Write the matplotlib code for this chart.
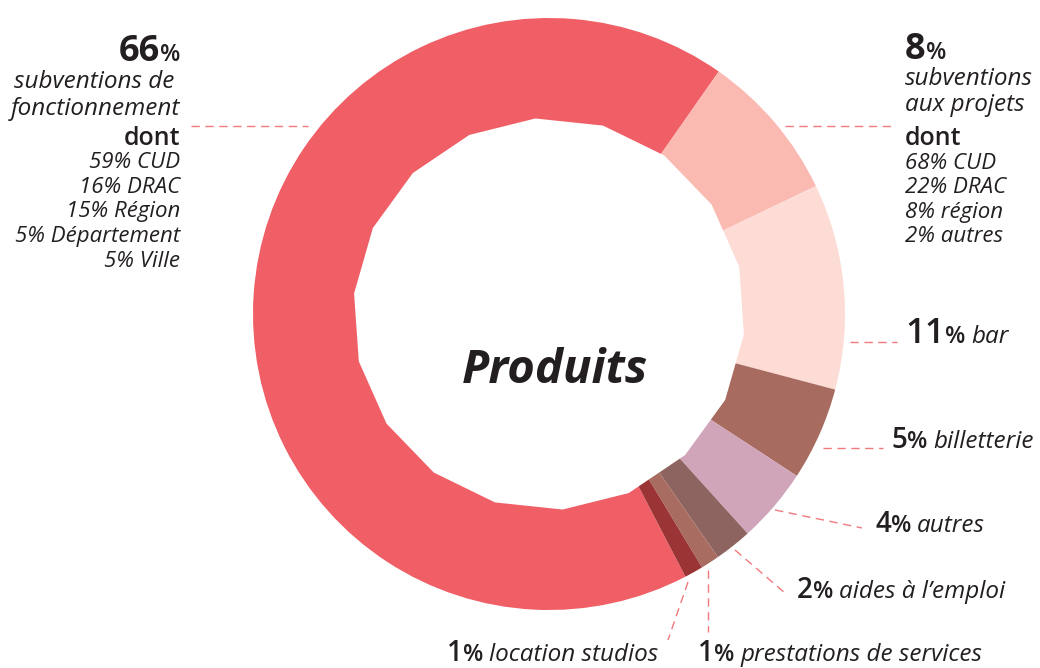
import numpy as np
import matplotlib
matplotlib.use("Agg")
import matplotlib.pyplot as plt
from matplotlib.patches import RegularPolygon

# ---------------- data ----------------
categories = ["subventions de fonctionnement", "subventions aux projets", "bar",
              "billetterie", "autres", "aides à l’emploi",
              "prestations de services", "location studios"]
values = [66, 8, 11, 5, 4, 2, 1, 1]
colors = ["#F05E66", "#FABAB2", "#FDDCD6", "#A86B60", "#D0A5BA",
          "#8E6461", "#A86C60", "#9B3535"]
detail_fonct = ["59% CUD", "16% DRAC", "15% Région", "5% Département", "5% Ville"]
detail_projets = ["68% CUD", "22% DRAC", "8% région", "2% autres"]
title = "Produits"

FONT = ["Open Sans", "DejaVu Sans"]
TXT = "#231F20"
LINE = "#F07A7E"
W, H = 1040, 668

fig = plt.figure(figsize=(W / 100, H / 100), dpi=100)
ax = fig.add_axes([0, 0, 1, 1])

CX, CY, R = 549, 314, 296
start = 55 + 360 * values[0] / sum(values)
ax.pie(values, colors=colors, center=(CX, H - CY), radius=R, startangle=start,
       counterclock=False, wedgeprops=dict(linewidth=0))
ax.add_patch(RegularPolygon((CX, H - CY), numVertices=18, radius=196,
                            orientation=np.radians(4), facecolor="white",
                            edgecolor="none", zorder=3))
ax.set_xlim(0, W)
ax.set_ylim(0, H)
ax.set_aspect("equal")
ax.axis("off")

# leader lines
leaders = [((191, 126), (308, 126)), ((785, 126), (895, 126)),
           ((850, 342), (897, 342)), ((823, 448), (883, 448)),
           ((775, 510), (862, 528)), ((735, 550), (785, 593)),
           ((708, 570), (708, 632)), ((688, 582), (668, 640))]
for (x0, y0), (x1, y1) in leaders:
    ax.plot([x0, x1], [H - y0, H - y1], color=LINE, lw=1.0,
            dashes=(6, 4), zorder=4)

renderer = fig.canvas.get_renderer()


def rich(x, y, pieces, ha="left"):
    """pieces: (string, size, weight, style, gap_after_px)"""
    texts, widths = [], []
    for s, size, weight, style, gap in pieces:
        t = ax.text(0, 0, s, fontsize=size, fontweight=weight, fontstyle=style,
                    color=TXT, va="baseline", ha="left", family=FONT, zorder=5)
        texts.append(t)
        widths.append(t.get_window_extent(renderer).width + gap)
    total = sum(widths)
    xx = x - total if ha == "right" else x
    for t, w in zip(texts, widths):
        t.set_position((xx, H - y))
        xx += w


# left block
rich(180, 61, [("66", 26, "bold", "normal", 0), ("%", 17, "semibold", "normal", 0)], "right")
rich(174, 88, [("subventions de", 17.5, "normal", "italic", 0)], "right")
rich(180, 115, [("fonctionnement", 17.5, "normal", "italic", 0)], "right")
rich(180, 145, [("dont", 18, "semibold", "normal", 0)], "right")
for i, s in enumerate(detail_fonct):
    rich(180, 168 + i * 24.7, [(s, 16, "normal", "italic", 0)], "right")

# right block
rich(905, 59, [("8", 26, "bold", "normal", 0), ("%", 17, "semibold", "normal", 0)])
rich(905, 85, [("subventions", 17.5, "normal", "italic", 0)])
rich(905, 111, [("aux projets", 17.5, "normal", "italic", 0)])
rich(905, 145, [("dont", 18, "semibold", "normal", 0)])
for i, s in enumerate(detail_projets):
    rich(905, 169 + i * 24.3, [(s, 16, "normal", "italic", 0)])


def lab(x, y, num, name, big=20):
    rich(x, y, [(num, big, "semibold", "normal", 0), ("%", 17, "semibold", "normal", 6),
                (name, 17.5, "normal", "italic", 0)])


lab(905, 343, str(values[2]), categories[2], big=25)
lab(891, 448, str(values[3]), categories[3])
lab(875, 532, str(values[4]), categories[4])
lab(797, 598, str(values[5]), categories[5])
lab(447, 661, str(values[7]), categories[7])
lab(698, 661, str(values[6]), categories[6])

ax.text(555, H - 383, title, fontsize=34, fontweight="bold", fontstyle="italic",
        color=TXT, ha="center", va="baseline", family=FONT, zorder=5)

fig.savefig("out.png", dpi=100)
